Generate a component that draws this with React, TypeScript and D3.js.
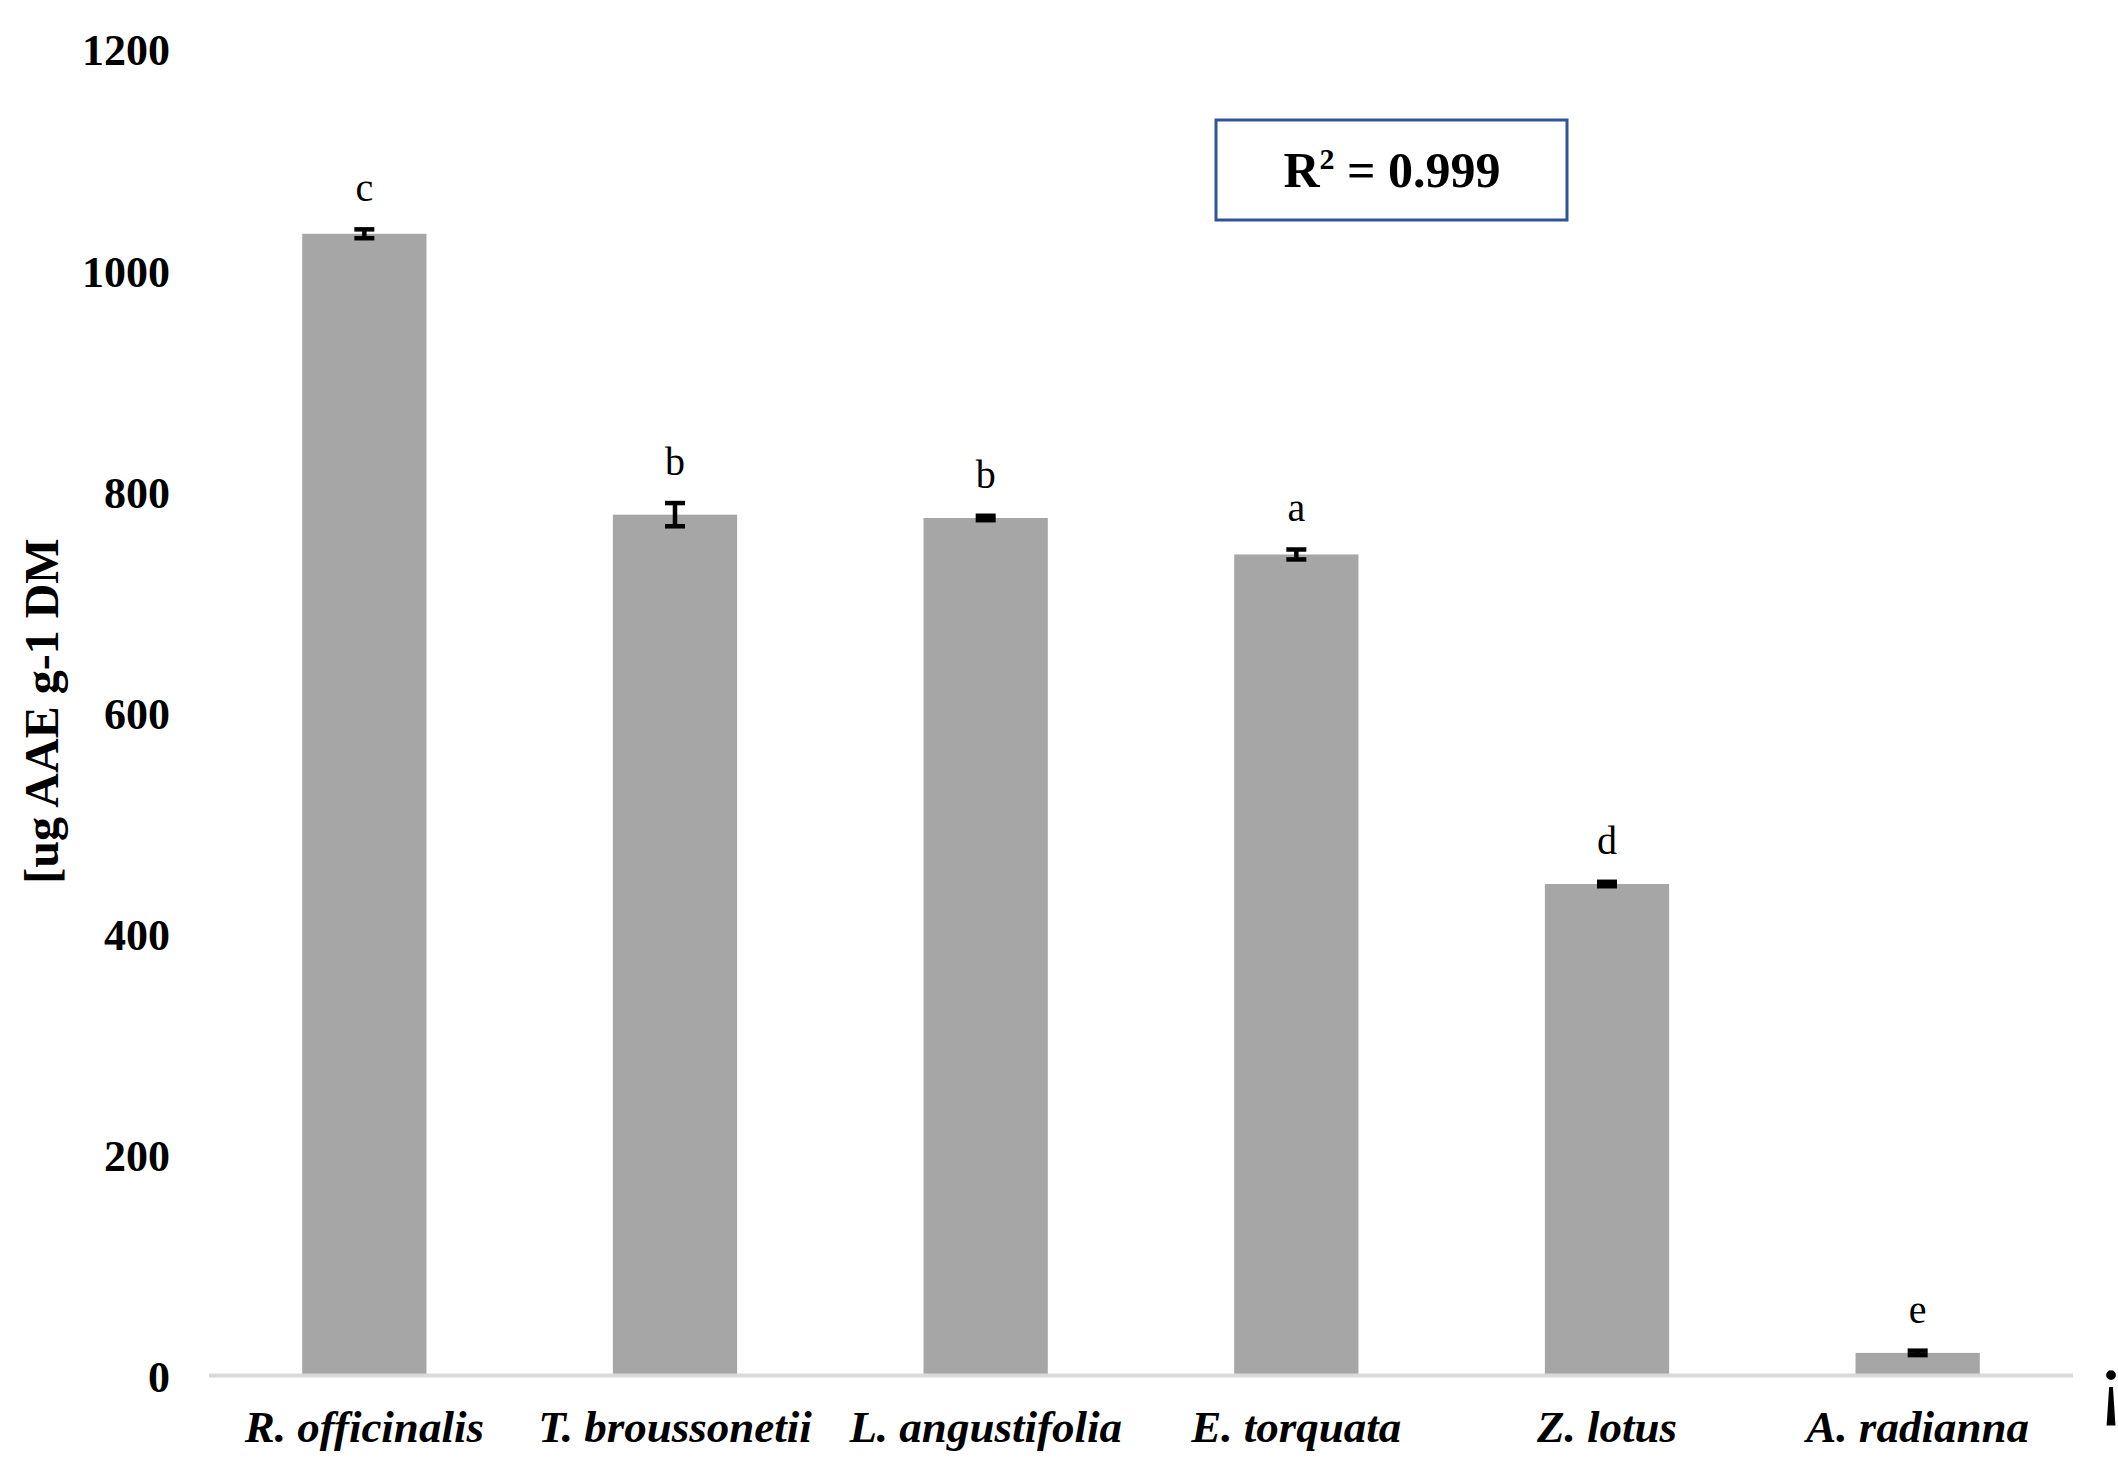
import React from "react";
import * as d3 from "d3";

const categories = ["R. officinalis", "T. broussonetii", "L. angustifolia", "E. torquata", "Z. lotus", "A. radianna"];
const values = [1032, 778, 775, 742, 444, 20];
const errors = [4, 10.5, 2, 4.5, 2, 2];
const letters = ["c", "b", "b", "a", "d", "e"];
const yTicks = [0, 200, 400, 600, 800, 1000, 1200];
const yLabel = "[ug AAE g-1 DM";
const r2Value = "0.999";

const W = 2118;
const H = 1476;
const FONT = "'Liberation Serif', 'Times New Roman', serif";

export default function App() {
  const x = d3.scaleBand<string>().domain(categories).range([209, 2073]).paddingInner(0.6).paddingOuter(0.3);
  const y = d3.scaleLinear().domain([0, 1200]).range([1375, 48]);
  const bw = x.bandwidth();
  const capW = 20;

  return (
    <svg width={W} height={H} style={{ position: "absolute", left: 0, top: 0, background: "#fff" }} fontFamily={FONT}>
      <rect x={0} y={0} width={W} height={H} fill="#fff" />
      {/* y tick labels */}
      {yTicks.map((t) => (
        <text key={t} x={170} y={y(t) + 2} dy="0.35em" textAnchor="end" fontSize={44} fontWeight="bold" fill="#000">
          {t}
        </text>
      ))}
      {/* y axis title */}
      <text
        transform={`translate(${58},${711}) rotate(-90)`}
        textAnchor="middle"
        fontSize={48}
        fontWeight="bold"
        fill="#000"
      >
        {yLabel}
      </text>
      {/* bars */}
      {categories.map((c, i) => (
        <rect key={c} x={x(c)} y={y(values[i])} width={bw} height={y(0) - y(values[i])} fill="#a6a6a6" />
      ))}
      {/* axis line */}
      <line x1={209} x2={2073} y1={y(0) + 0.5} y2={y(0) + 0.5} stroke="#d9d9d9" strokeWidth={4} />
      {/* error bars */}
      {categories.map((c, i) => {
        const cx = (x(c) as number) + bw / 2;
        const top = y(values[i] + errors[i]);
        const bot = y(values[i] - errors[i]);
        return (
          <g key={c} stroke="#000" strokeWidth={4.5}>
            <line x1={cx} x2={cx} y1={top} y2={bot} />
            <line x1={cx - capW / 2} x2={cx + capW / 2} y1={top} y2={top} />
            <line x1={cx - capW / 2} x2={cx + capW / 2} y1={bot} y2={bot} />
          </g>
        );
      })}
      {/* significance letters */}
      {categories.map((c, i) => (
        <text
          key={c}
          x={(x(c) as number) + bw / 2}
          y={y(values[i] + errors[i]) - 28}
          textAnchor="middle"
          fontSize={40}
          fill="#000"
        >
          {letters[i]}
        </text>
      ))}
      {/* x labels */}
      {categories.map((c) => (
        <text
          key={c}
          x={(x(c) as number) + bw / 2}
          y={1442}
          textAnchor="middle"
          fontSize={45}
          fontWeight="bold"
          fontStyle="italic"
          fill="#000"
        >
          {c}
        </text>
      ))}
      {/* R² box */}
      <rect x={1216} y={120} width={351} height={100} fill="#fff" stroke="#2f5597" strokeWidth={3} />
      <text x={1392} y={187} textAnchor="middle" fontSize={50} fontWeight="bold" fill="#000">
        R<tspan fontSize={30} dy={-18}>2</tspan>
        <tspan dy={18}> = {r2Value}</tspan>
      </text>
      {/* clipped glyph at right edge */}
      <text x={2111} y={1409} textAnchor="middle" fontSize={83} fill="#000">
        ¡
      </text>
    </svg>
  );
}
